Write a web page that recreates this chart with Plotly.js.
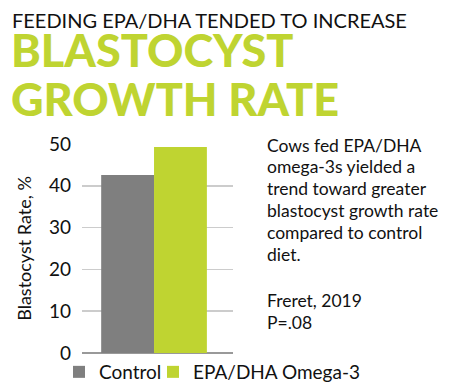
<!DOCTYPE html>
<html>
<head>
<meta charset="utf-8">
<script src="https://cdn.plot.ly/plotly-3.0.1.min.js"></script>
<style>html,body{margin:0;padding:0;background:#fff;}#chart{width:466px;height:387px;}</style>
</head>
<body>
<div id="chart"></div>
<script>
const categories = ["Control", "EPA/DHA Omega-3"];
const values = [42.6, 49.3];
const colors = ["#7f7f7f", "#bfd431"];
const yTicks = [0, 10, 20, 30, 40, 50];
const subtitle = "FEEDING EPA/DHA TENDED TO INCREASE";
const headline = ["BLASTOCYST", "GROWTH RATE"];
const note = ["Cows fed EPA/DHA", "omega-3s yielded a", "trend toward greater", "blastocyst growth rate", "compared to control", "diet."];
const source = ["Freret, 2019", "P=.08"];
const yTitle = "Blastocyst Rate, %";

const FONT = "Lato, 'Open Sans', sans-serif";
const W = 466, H = 387;
const m = {l: 82, r: 10, t: 144, b: 34, autoexpand: false};
const pw = W - m.l - m.r, ph = H - m.t - m.b;
const px = x => (x - m.l) / pw;
const py = y => (H - m.b - y) / ph;

const legendNames = ["legend", "legend2"];
const traces = categories.map((c, i) => ({
  type: "bar",
  name: c,
  x: [0],
  y: [values[i]],
  marker: {color: colors[i]},
  legend: legendNames[i],
  hoverinfo: "skip"
}));

const ann = (text, x, y, size, color, weight) => ({
  text: text, x: px(x), y: py(y), xref: "paper", yref: "paper", xanchor: "left", yanchor: "middle",
  showarrow: false, borderpad: 0, align: "left", font: {family: FONT, size: size, color: color, weight: weight || "normal"}
});

const annotations = [
  ann(subtitle, 11, 20, 20, "#111"),
  ann(headline[0], 10, 49.5, 45, colors[1], 900),
  ann(headline[1], 10, 98.5, 45, colors[1], 900)
];
note.forEach((t, k) => annotations.push(ann(t, 266, 145 + 21.8 * k, 17.5, "#111")));
source.forEach((t, k) => annotations.push(ann(t, 266, 300.5 + 22 * k, 17.5, "#111")));

const legendStyle = x => ({orientation: "h", x: px(x), y: py(372), xanchor: "left", yanchor: "middle",
  font: {family: FONT, size: 19, color: "#111"}, itemwidth: 30, bgcolor: "rgba(0,0,0,0)"});

const layout = {
  width: W, height: H,
  margin: m,
  paper_bgcolor: "#fff", plot_bgcolor: "#fff",
  barmode: "group", bargap: 0.3, bargroupgap: 0,
  showlegend: true,
  legend: legendStyle(59),
  legend2: legendStyle(153),
  xaxis: {domain: [0, 151 / pw], type: "linear", range: [-0.477, 0.523], showticklabels: false, showgrid: false, zeroline: false, showline: false, ticks: ""},
  yaxis: {range: [0, 50], tickvals: yTicks, ticktext: yTicks.map(String), showgrid: true, gridcolor: "#cccccc", gridwidth: 1.5,
          zeroline: true, zerolinecolor: "#999", zerolinewidth: 1.5, showline: false, ticks: "", ticklabelstandoff: 10,
          tickfont: {family: FONT, size: 19, color: "#111"},
          title: {text: yTitle, font: {family: FONT, size: 18, color: "#111"}, standoff: 12}},
  annotations: annotations,
  font: {family: FONT}
};

Plotly.newPlot("chart", traces, layout, {staticPlot: true, displayModeBar: false});
</script>
</body>
</html>
